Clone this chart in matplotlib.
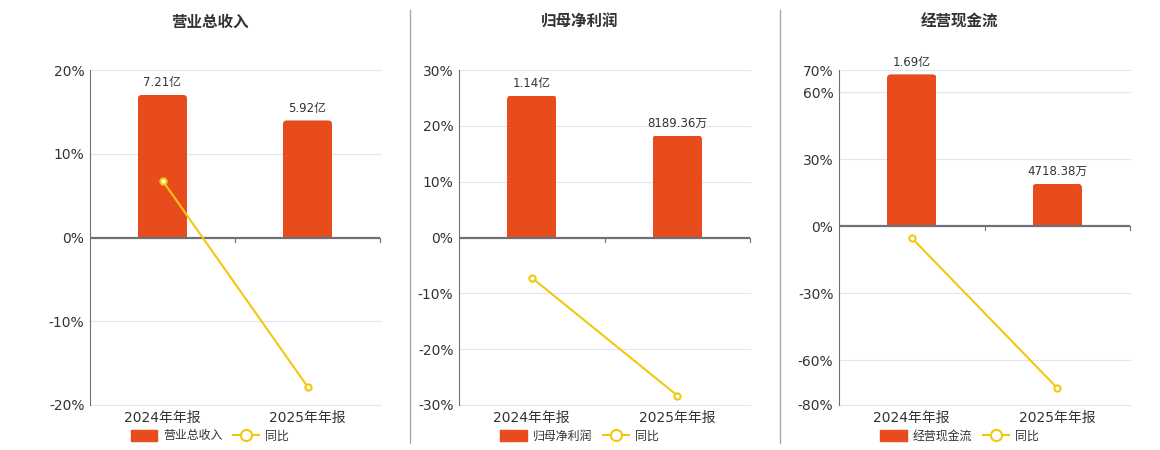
import numpy as np
import matplotlib
matplotlib.use("Agg")
import matplotlib.pyplot as plt
from matplotlib.lines import Line2D
from matplotlib.patches import Patch, FancyBboxPatch, Rectangle

plt.rcParams['font.family'] = ['DejaVu Sans', 'Noto Sans CJK SC']

# data
categories = ['2024年年报', '2025年年报']
titles = ['营业总收入', '归母净利润', '经营现金流']

revenue = [7.21e8, 5.92e8]
revenue_labels = ['7.21亿', '5.92亿']
revenue_yoy = [6.8, -17.8]

profit = [1.14e8, 8189.36e4]
profit_labels = ['1.14亿', '8189.36万']
profit_yoy = [-7.2, -28.3]

cashflow = [1.69e8, 4718.38e4]
cashflow_labels = ['1.69亿', '4718.38万']
cashflow_yoy = [-5.2, -72.4]

yticks = [[-20, -10, 0, 10, 20],
          [-30, -20, -10, 0, 10, 20, 30],
          [-80, -60, -30, 0, 30, 60, 70]]
ylims = [(-20, 20), (-30, 30), (-80, 70)]
bar_fill = [0.851, 0.847, 0.972]   # share of the positive range the tallest bar reaches

BAR = '#E84B1C'
LINE = '#F2C80F'
TXT = '#333333'
AXC = '#6E7079'
GRID = '#E0E6F1'

W, H = 1160, 450
fig = plt.figure(figsize=(W / 100, H / 100), dpi=100)

panels = [(revenue, revenue_labels, revenue_yoy),
          (profit, profit_labels, profit_yoy),
          (cashflow, cashflow_labels, cashflow_yoy)]
lefts = [90, 459, 839]
rights = [380, 750, 1130]
top_px, bot_px = 70, 405

x = np.arange(len(categories))
bw = 0.34

for i, (vals, labs, yoy) in enumerate(panels):
    rect = [lefts[i] / W, 1 - bot_px / H, (rights[i] - lefts[i]) / W, (bot_px - top_px) / H]
    ax = fig.add_axes(rect)
    ax2 = ax.twinx()

    lo, hi = ylims[i]
    ax.set_ylim(lo, hi)
    ax.set_xlim(-0.5, 1.5)
    ax.set_yticks(yticks[i])
    ax.set_yticklabels([f'{t}%' for t in yticks[i]])
    ax.tick_params(axis='y', length=0, labelsize=10, colors=TXT, pad=4)
    ax.set_xticks(x)
    ax.set_xticklabels(categories)
    ax.tick_params(axis='x', length=0, labelsize=10, colors=TXT, pad=4)
    for t in yticks[i]:
        if t != 0:
            ax.axhline(t, color=GRID, lw=0.8, zorder=0, clip_on=False)
    for s in ['top', 'right', 'bottom']:
        ax.spines[s].set_visible(False)
    ax.spines['left'].set_color(AXC)
    ax.spines['left'].set_linewidth(0.8)

    # secondary scale for the bars, zero aligned with the % axis
    btop = max(vals) / bar_fill[i]
    ax2.set_ylim(btop * lo / hi, btop)
    ax2.set_xlim(-0.5, 1.5)
    ax2.axis('off')
    bars = ax2.bar(x, vals, width=bw, color='none', zorder=2)

    # rounded tops: px -> data units
    px_x = (rights[i] - lefts[i]) / 2.0
    px_y = (bot_px - top_px) / (btop - btop * lo / hi)
    r = 4.0
    for b in bars:
        bx, by, bwid, bh = b.get_x(), b.get_y(), b.get_width(), b.get_height()
        fb = FancyBboxPatch((bx, by - 3 * r / px_y), bwid, bh + 3 * r / px_y,
                            boxstyle=f'round,pad=0,rounding_size={r / px_x}',
                            mutation_aspect=px_x / px_y,
                            facecolor=BAR, edgecolor='none', zorder=2)
        ax2.add_patch(fb)
        clip = Rectangle((bx, by), bwid, bh, transform=ax2.transData)
        fb.set_clip_path(clip)
    for b, lab in zip(bars, labs):
        ax2.annotate(lab, (b.get_x() + b.get_width() / 2, b.get_height()),
                     xytext=(0, 4), textcoords='offset points',
                     ha='center', va='bottom', fontsize=8.5, color=TXT)

    # zero axis line with category boundary ticks
    ax2.axhline(0, color=AXC, lw=1.6, zorder=3)
    for xb in [0.5, 1.5]:
        ax2.plot([xb, xb], [0, -4 / px_y], color=AXC, lw=0.8, zorder=3, clip_on=False)

    # yoy line on top
    ax3 = ax.twinx()
    ax3.set_ylim(lo, hi)
    ax3.set_xlim(-0.5, 1.5)
    ax3.axis('off')
    ax3.plot(x, yoy, color=LINE, lw=1.5, marker='o', ms=4.5,
             mfc='white', mec=LINE, mew=1.5, zorder=4)

    cx = (lefts[i] + rights[i]) / 2 / W
    fig.text(cx - 25 / W, 1 - 22 / H, titles[i], ha='center', va='center',
             fontsize=11.2, fontweight='bold', color=TXT)

    handles = [Patch(facecolor=BAR, edgecolor=BAR, label=titles[i]),
               Line2D([0], [0], color=LINE, lw=1.5, marker='o', ms=8,
                      mfc='white', mec=LINE, mew=1.5, label='同比')]
    fig.legend(handles=handles, loc='center', bbox_to_anchor=(cx - 25 / W, 1 - 436 / H),
               ncol=2, frameon=False, fontsize=8.6, handlelength=2.2, handleheight=1.1,
               columnspacing=0.9, handletextpad=0.5, labelcolor=TXT)

# vertical separators between panels
for xs in [410, 780]:
    fig.add_artist(Line2D([xs / W, xs / W], [1 - 443 / H, 1 - 10 / H], color='#AAAAAA', lw=1.0))

fig.savefig('out.png', dpi=100)
